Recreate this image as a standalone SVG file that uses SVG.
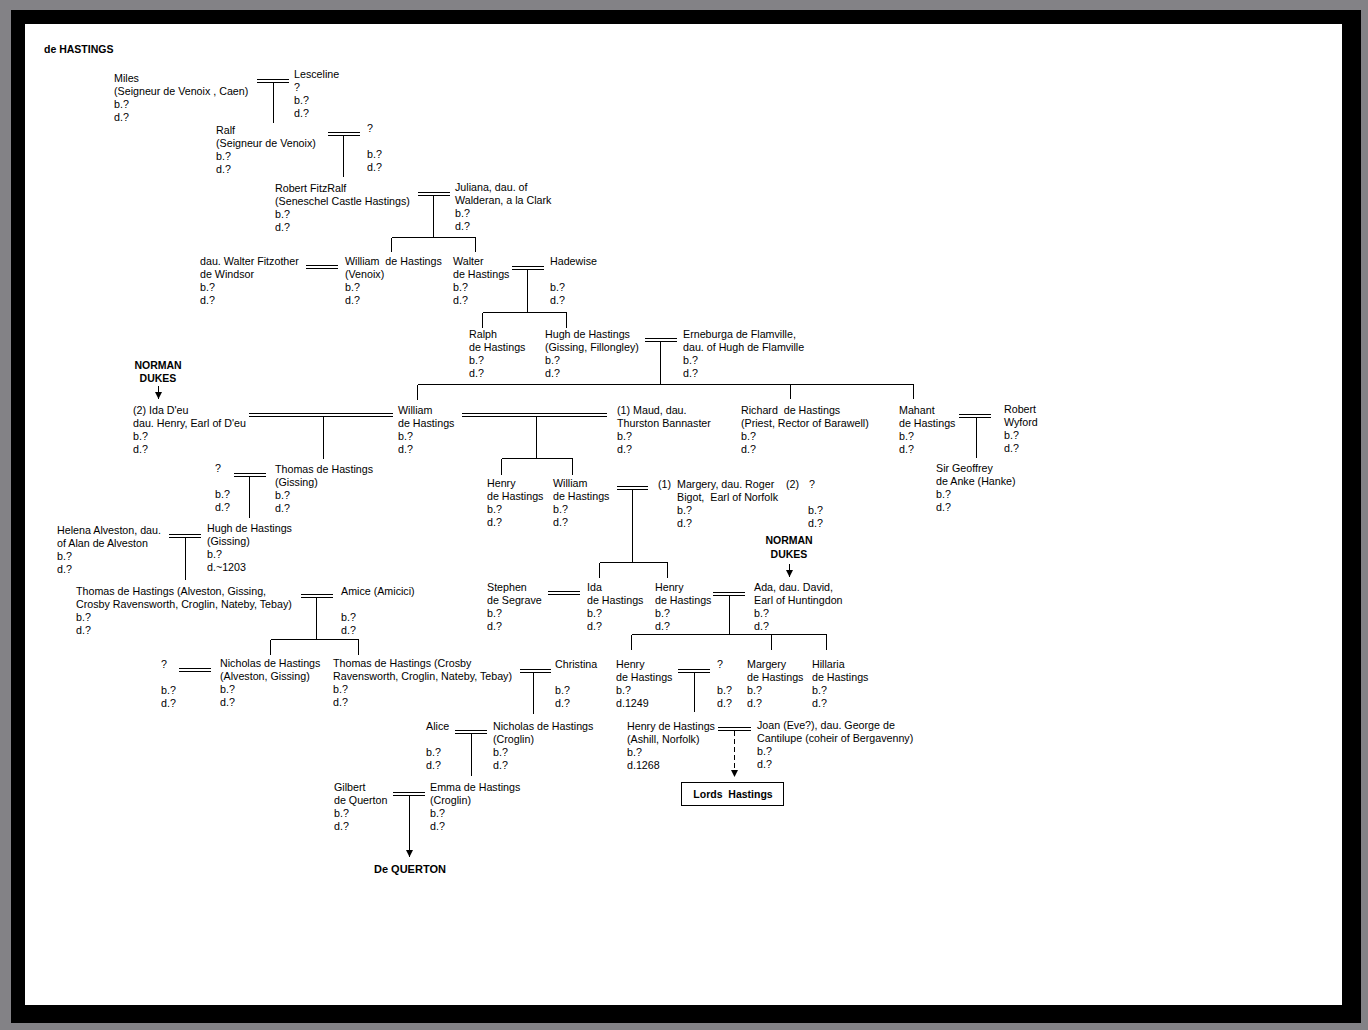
<svg xmlns="http://www.w3.org/2000/svg" width="1368" height="1030" viewBox="0 0 1368 1030">
<defs>
<style>
text { font-family: "Liberation Sans", Arial, sans-serif; font-size: 10.7px; fill: #000; white-space: pre; }
.b { font-weight: bold; font-size: 10.5px; }
.ln { stroke: #000; stroke-width: 1; fill: none; shape-rendering: crispEdges; }
.dash { stroke-dasharray: 5 3; }
</style>
<marker id="arr" viewBox="0 0 8 8" refX="8" refY="4" markerWidth="7" markerHeight="7" markerUnits="userSpaceOnUse" orient="auto">
<path d="M0,0 L8,4 L0,8 z" fill="#000"/>
</marker>
</defs>
<rect x="0" y="0" width="1368" height="1030" fill="#838286"/>
<rect x="11" y="10" width="1350" height="1013" fill="#000"/>
<rect x="25" y="24" width="1317" height="981" fill="#fff"/>

<g id="connectors">
<path class="ln" d="M257,79.5H289M257,82.5H289M273.5,82.5V123"/>
<path class="ln" d="M328,132.5H360M328,135.5H360M343.5,135.5V177"/>
<path class="ln" d="M418,192.5H450M418,195.5H450M433.5,195.5V237.5M391.5,237.5H475.5M391.5,237.5V252M475.5,237.5V252"/>
<path class="ln" d="M306,265.5H338M306,268.5H338"/>
<path class="ln" d="M512,266.5H544M512,269.5H544M527.5,269.5V312.5M482.5,312.5H566.5M482.5,312.5V328M566.5,312.5V328"/>
<path class="ln" d="M645,338.5H677M645,341.5H677M660.5,341.5V384.5M417.5,384.5H913.5M417.5,384.5V400M790.5,384.5V399M913.5,384.5V399"/>
<path class="ln" d="M249,413.5H393M249,416.5H393M323.5,416.5V459"/>
<path class="ln" d="M462,413.5H607M462,416.5H607M536.5,416.5V458.5M501.5,458.5H572.5M501.5,458.5V475M572.5,458.5V475"/>
<path class="ln" d="M959,414.5H991M959,417.5H991M976.5,417.5V458"/>
<path class="ln" d="M234,473.5H266M234,476.5H266M249.5,476.5V518"/>
<path class="ln" d="M169,534.5H201M169,537.5H201M185.5,537.5V580"/>
<path class="ln" d="M301,594.5H333M301,597.5H333M316.5,597.5V639.5M270.5,639.5H358.5M270.5,639.5V655M358.5,639.5V655"/>
<path class="ln" d="M179,668.5H211M179,671.5H211"/>
<path class="ln" d="M520,669.5H551M520,672.5H551M533.5,672.5V714"/>
<path class="ln" d="M455,730.5H487M455,733.5H487M471.5,733.5V776"/>
<path class="ln" d="M393,792.5H425M393,795.5H425"/>
<path class="ln" d="M409.5,795.5V857" marker-end="url(#arr)"/>
<path class="ln" d="M617,486.5H648M617,489.5H648M632.5,489.5V562.5M599.5,562.5H667.5M599.5,562.5V578M667.5,562.5V578"/>
<path class="ln" d="M548,591.5H580M548,594.5H580"/>
<path class="ln" d="M713,592.5H745M713,595.5H745M729.5,595.5V634.5M631.5,634.5H826.5M631.5,634.5V650M771.5,634.5V650M826.5,634.5V650"/>
<path class="ln" d="M678,669.5H710M678,672.5H710M694.5,672.5V712"/>
<path class="ln" d="M718,727.5H751M718,730.5H751"/>
<path class="ln dash" d="M734.5,731V777" marker-end="url(#arr)"/>
<path class="ln" d="M158.5,386V399" marker-end="url(#arr)"/>
<path class="ln" d="M789.5,564V577" marker-end="url(#arr)"/>
</g>

<g id="title"><text class="b" x="44" y="53">de HASTINGS</text></g>

<g id="miles"><text x="114" y="82"><tspan x="114">Miles</tspan><tspan x="114" dy="13">(Seigneur de Venoix , Caen)</tspan><tspan x="114" dy="13">b.?</tspan><tspan x="114" dy="13">d.?</tspan></text></g>
<g id="lesceline"><text x="294" y="78"><tspan x="294">Lesceline</tspan><tspan x="294" dy="13">?</tspan><tspan x="294" dy="13">b.?</tspan><tspan x="294" dy="13">d.?</tspan></text></g>
<g id="ralf"><text x="216" y="134"><tspan x="216">Ralf</tspan><tspan x="216" dy="13">(Seigneur de Venoix)</tspan><tspan x="216" dy="13">b.?</tspan><tspan x="216" dy="13">d.?</tspan></text></g>
<g id="ralf-wife"><text x="367" y="132"><tspan x="367">?</tspan><tspan x="367" dy="26">b.?</tspan><tspan x="367" dy="13">d.?</tspan></text></g>
<g id="robert"><text x="275" y="192"><tspan x="275">Robert FitzRalf</tspan><tspan x="275" dy="13">(Seneschel Castle Hastings)</tspan><tspan x="275" dy="13">b.?</tspan><tspan x="275" dy="13">d.?</tspan></text></g>
<g id="juliana"><text x="455" y="191"><tspan x="455">Juliana, dau. of</tspan><tspan x="455" dy="13">Walderan, a la Clark</tspan><tspan x="455" dy="13">b.?</tspan><tspan x="455" dy="13">d.?</tspan></text></g>
<g id="dau-walter"><text x="200" y="265"><tspan x="200">dau. Walter Fitzother</tspan><tspan x="200" dy="13">de Windsor</tspan><tspan x="200" dy="13">b.?</tspan><tspan x="200" dy="13">d.?</tspan></text></g>
<g id="william-venoix"><text x="345" y="265"><tspan x="345">William  de Hastings</tspan><tspan x="345" dy="13">(Venoix)</tspan><tspan x="345" dy="13">b.?</tspan><tspan x="345" dy="13">d.?</tspan></text></g>
<g id="walter"><text x="453" y="265"><tspan x="453">Walter</tspan><tspan x="453" dy="13">de Hastings</tspan><tspan x="453" dy="13">b.?</tspan><tspan x="453" dy="13">d.?</tspan></text></g>
<g id="hadewise"><text x="550" y="265"><tspan x="550">Hadewise</tspan><tspan x="550" dy="26">b.?</tspan><tspan x="550" dy="13">d.?</tspan></text></g>
<g id="ralph"><text x="469" y="338"><tspan x="469">Ralph</tspan><tspan x="469" dy="13">de Hastings</tspan><tspan x="469" dy="13">b.?</tspan><tspan x="469" dy="13">d.?</tspan></text></g>
<g id="hugh"><text x="545" y="338"><tspan x="545">Hugh de Hastings</tspan><tspan x="545" dy="13">(Gissing, Fillongley)</tspan><tspan x="545" dy="13">b.?</tspan><tspan x="545" dy="13">d.?</tspan></text></g>
<g id="erneburga"><text x="683" y="338"><tspan x="683">Erneburga de Flamville,</tspan><tspan x="683" dy="13">dau. of Hugh de Flamville</tspan><tspan x="683" dy="13">b.?</tspan><tspan x="683" dy="13">d.?</tspan></text></g>

<g id="norman-dukes-1"><text class="b" x="158" y="369" text-anchor="middle">NORMAN</text><text class="b" x="158" y="382" text-anchor="middle">DUKES</text></g>
<g id="ida-deu"><text x="133" y="414"><tspan x="133">(2) Ida D'eu</tspan><tspan x="133" dy="13">dau. Henry, Earl of D'eu</tspan><tspan x="133" dy="13">b.?</tspan><tspan x="133" dy="13">d.?</tspan></text></g>
<g id="william"><text x="398" y="414"><tspan x="398">William</tspan><tspan x="398" dy="13">de Hastings</tspan><tspan x="398" dy="13">b.?</tspan><tspan x="398" dy="13">d.?</tspan></text></g>
<g id="maud"><text x="617" y="414"><tspan x="617">(1) Maud, dau.</tspan><tspan x="617" dy="13">Thurston Bannaster</tspan><tspan x="617" dy="13">b.?</tspan><tspan x="617" dy="13">d.?</tspan></text></g>
<g id="richard"><text x="741" y="414"><tspan x="741">Richard  de Hastings</tspan><tspan x="741" dy="13">(Priest, Rector of Barawell)</tspan><tspan x="741" dy="13">b.?</tspan><tspan x="741" dy="13">d.?</tspan></text></g>
<g id="mahant"><text x="899" y="414"><tspan x="899">Mahant</tspan><tspan x="899" dy="13">de Hastings</tspan><tspan x="899" dy="13">b.?</tspan><tspan x="899" dy="13">d.?</tspan></text></g>
<g id="robert-wyford"><text x="1004" y="413"><tspan x="1004">Robert</tspan><tspan x="1004" dy="13">Wyford</tspan><tspan x="1004" dy="13">b.?</tspan><tspan x="1004" dy="13">d.?</tspan></text></g>
<g id="geoffrey"><text x="936" y="472"><tspan x="936">Sir Geoffrey</tspan><tspan x="936" dy="13">de Anke (Hanke)</tspan><tspan x="936" dy="13">b.?</tspan><tspan x="936" dy="13">d.?</tspan></text></g>

<g id="thomas-wife"><text x="215" y="472"><tspan x="215">?</tspan><tspan x="215" dy="26">b.?</tspan><tspan x="215" dy="13">d.?</tspan></text></g>
<g id="thomas-gissing"><text x="275" y="473"><tspan x="275">Thomas de Hastings</tspan><tspan x="275" dy="13">(Gissing)</tspan><tspan x="275" dy="13">b.?</tspan><tspan x="275" dy="13">d.?</tspan></text></g>
<g id="helena"><text x="57" y="534"><tspan x="57">Helena Alveston, dau.</tspan><tspan x="57" dy="13">of Alan de Alveston</tspan><tspan x="57" dy="13">b.?</tspan><tspan x="57" dy="13">d.?</tspan></text></g>
<g id="hugh-gissing"><text x="207" y="532"><tspan x="207">Hugh de Hastings</tspan><tspan x="207" dy="13">(Gissing)</tspan><tspan x="207" dy="13">b.?</tspan><tspan x="207" dy="13">d.~1203</tspan></text></g>
<g id="thomas-alveston"><text x="76" y="595"><tspan x="76">Thomas de Hastings (Alveston, Gissing,</tspan><tspan x="76" dy="13">Crosby Ravensworth, Croglin, Nateby, Tebay)</tspan><tspan x="76" dy="13">b.?</tspan><tspan x="76" dy="13">d.?</tspan></text></g>
<g id="amice"><text x="341" y="595"><tspan x="341">Amice (Amicici)</tspan><tspan x="341" dy="26">b.?</tspan><tspan x="341" dy="13">d.?</tspan></text></g>
<g id="nicholas-wife"><text x="161" y="668"><tspan x="161">?</tspan><tspan x="161" dy="26">b.?</tspan><tspan x="161" dy="13">d.?</tspan></text></g>
<g id="nicholas-alveston"><text x="220" y="667"><tspan x="220">Nicholas de Hastings</tspan><tspan x="220" dy="13">(Alveston, Gissing)</tspan><tspan x="220" dy="13">b.?</tspan><tspan x="220" dy="13">d.?</tspan></text></g>
<g id="thomas-crosby"><text x="333" y="667"><tspan x="333">Thomas de Hastings (Crosby</tspan><tspan x="333" dy="13">Ravensworth, Croglin, Nateby, Tebay)</tspan><tspan x="333" dy="13">b.?</tspan><tspan x="333" dy="13">d.?</tspan></text></g>
<g id="christina"><text x="555" y="668"><tspan x="555">Christina</tspan><tspan x="555" dy="26">b.?</tspan><tspan x="555" dy="13">d.?</tspan></text></g>
<g id="alice"><text x="426" y="730"><tspan x="426">Alice</tspan><tspan x="426" dy="26">b.?</tspan><tspan x="426" dy="13">d.?</tspan></text></g>
<g id="nicholas-croglin"><text x="493" y="730"><tspan x="493">Nicholas de Hastings</tspan><tspan x="493" dy="13">(Croglin)</tspan><tspan x="493" dy="13">b.?</tspan><tspan x="493" dy="13">d.?</tspan></text></g>
<g id="gilbert"><text x="334" y="791"><tspan x="334">Gilbert</tspan><tspan x="334" dy="13">de Querton</tspan><tspan x="334" dy="13">b.?</tspan><tspan x="334" dy="13">d.?</tspan></text></g>
<g id="emma"><text x="430" y="791"><tspan x="430">Emma de Hastings</tspan><tspan x="430" dy="13">(Croglin)</tspan><tspan x="430" dy="13">b.?</tspan><tspan x="430" dy="13">d.?</tspan></text></g>
<g id="de-querton"><text class="b" x="374" y="873" style="font-size:11px">De QUERTON</text></g>

<g id="henry-1"><text x="487" y="487"><tspan x="487">Henry</tspan><tspan x="487" dy="13">de Hastings</tspan><tspan x="487" dy="13">b.?</tspan><tspan x="487" dy="13">d.?</tspan></text></g>
<g id="william-2"><text x="553" y="487"><tspan x="553">William</tspan><tspan x="553" dy="13">de Hastings</tspan><tspan x="553" dy="13">b.?</tspan><tspan x="553" dy="13">d.?</tspan></text></g>
<g id="margery-bigot"><text x="658" y="488">(1)</text><text x="677" y="488"><tspan x="677">Margery, dau. Roger</tspan><tspan x="677" dy="13">Bigot,  Earl of Norfolk</tspan><tspan x="677" dy="13">b.?</tspan><tspan x="677" dy="13">d.?</tspan></text></g>
<g id="second-wife"><text x="786" y="488">(2)</text><text x="809" y="488">?</text><text x="808" y="514"><tspan x="808">b.?</tspan><tspan x="808" dy="13">d.?</tspan></text></g>
<g id="norman-dukes-2"><text class="b" x="789" y="544" text-anchor="middle">NORMAN</text><text class="b" x="789" y="558" text-anchor="middle">DUKES</text></g>
<g id="stephen"><text x="487" y="591"><tspan x="487">Stephen</tspan><tspan x="487" dy="13">de Segrave</tspan><tspan x="487" dy="13">b.?</tspan><tspan x="487" dy="13">d.?</tspan></text></g>
<g id="ida-hastings"><text x="587" y="591"><tspan x="587">Ida</tspan><tspan x="587" dy="13">de Hastings</tspan><tspan x="587" dy="13">b.?</tspan><tspan x="587" dy="13">d.?</tspan></text></g>
<g id="henry-2"><text x="655" y="591"><tspan x="655">Henry</tspan><tspan x="655" dy="13">de Hastings</tspan><tspan x="655" dy="13">b.?</tspan><tspan x="655" dy="13">d.?</tspan></text></g>
<g id="ada"><text x="754" y="591"><tspan x="754">Ada, dau. David,</tspan><tspan x="754" dy="13">Earl of Huntingdon</tspan><tspan x="754" dy="13">b.?</tspan><tspan x="754" dy="13">d.?</tspan></text></g>
<g id="henry-3"><text x="616" y="668"><tspan x="616">Henry</tspan><tspan x="616" dy="13">de Hastings</tspan><tspan x="616" dy="13">b.?</tspan><tspan x="616" dy="13">d.1249</tspan></text></g>
<g id="henry-3-wife"><text x="717" y="668"><tspan x="717">?</tspan><tspan x="717" dy="26">b.?</tspan><tspan x="717" dy="13">d.?</tspan></text></g>
<g id="margery-hastings"><text x="747" y="668"><tspan x="747">Margery</tspan><tspan x="747" dy="13">de Hastings</tspan><tspan x="747" dy="13">b.?</tspan><tspan x="747" dy="13">d.?</tspan></text></g>
<g id="hillaria"><text x="812" y="668"><tspan x="812">Hillaria</tspan><tspan x="812" dy="13">de Hastings</tspan><tspan x="812" dy="13">b.?</tspan><tspan x="812" dy="13">d.?</tspan></text></g>
<g id="henry-ashill"><text x="627" y="730"><tspan x="627">Henry de Hastings</tspan><tspan x="627" dy="13">(Ashill, Norfolk)</tspan><tspan x="627" dy="13">b.?</tspan><tspan x="627" dy="13">d.1268</tspan></text></g>
<g id="joan"><text x="757" y="729"><tspan x="757">Joan (Eve?), dau. George de</tspan><tspan x="757" dy="13">Cantilupe (coheir of Bergavenny)</tspan><tspan x="757" dy="13">b.?</tspan><tspan x="757" dy="13">d.?</tspan></text></g>
<g id="lords-hastings"><rect class="ln" x="681.5" y="782.5" width="102" height="23"/><text class="b" x="733" y="798" text-anchor="middle">Lords  Hastings</text></g>
</svg>
